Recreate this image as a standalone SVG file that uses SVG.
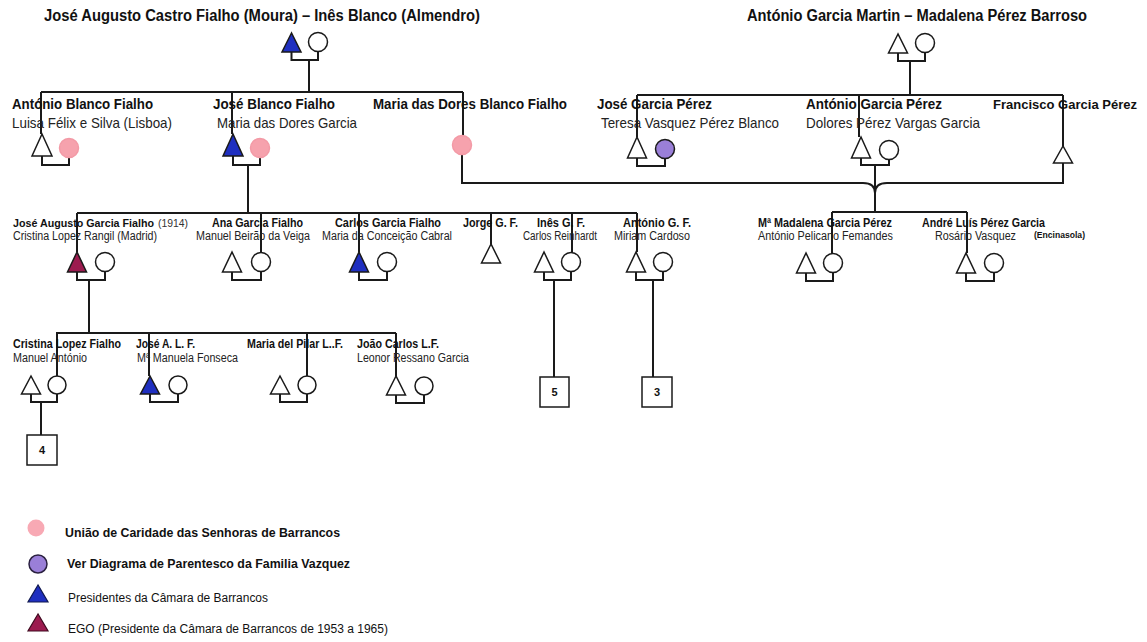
<svg xmlns="http://www.w3.org/2000/svg" width="1147" height="642" viewBox="0 0 1147 642">
<style>
.ln{stroke:#1a1a1a;stroke-width:2;fill:none}
.sym{fill:#fff;stroke:#1a1a1a;stroke-width:1.5}
.blue{fill:#1f2fc0}
.pink{fill:#f6a2ad;stroke:#f39aa6}
.purple{fill:#9a7fd8}
.ego{fill:#9c1b4f}
.box{fill:#fff;stroke:#1a1a1a;stroke-width:1.5}
text{font-family:"Liberation Sans",Arial,Helvetica,sans-serif;fill:#111}
.t{font-size:16px;font-weight:bold}
.b1{font-size:15px;font-weight:bold}
.r1{font-size:15px;fill:#222}
.b2{font-size:12px;font-weight:bold}
.r2{font-size:12px;fill:#222}
.lg{font-size:12px}
.num{font-size:11px;font-weight:bold;text-anchor:middle}
</style>
<rect width="1147" height="642" fill="#fff"/>

<g id="connectors">
<path class="ln" d="M291.5,52 V60 H318 V51.5 M309,60 V92"/>
<path class="ln" d="M41,92 H463"/>
<path class="ln" d="M41,92 V134 M232,92 V134 M463,92 V136"/>
<path class="ln" d="M42,156 V165 H69 V157.5"/>
<path class="ln" d="M233,156 V165 H260 V157.5 M248,165 V213"/>
<path class="ln" d="M898,53 V61 H925 V52.5 M910,61 V95"/>
<path class="ln" d="M637,95 H1063"/>
<path class="ln" d="M637,95 V137 M859,95 V137 M1063,95 V146"/>
<path class="ln" d="M637,158 V166 H665 V158.5"/>
<path class="ln" d="M861,158 V165 H889 V159.5 M875,165 V212"/>
<path class="ln" d="M462,154.5 V183 H863 Q875,183 875,193"/>
<path class="ln" d="M1063,163 V183 H887 Q875,183 875,193"/>
<path class="ln" d="M77,213 H637"/>
<path class="ln" d="M77,213 V252 M261,213 V252.5 M359,213 V252 M491,213 V244 M572,213 V252.5 M637,213 V252"/>
<path class="ln" d="M77,272 V280 H105 V271.5 M89,280 V333"/>
<path class="ln" d="M232,272 V280 H261 V271.5"/>
<path class="ln" d="M359,272 V280 H387 V271.5"/>
<path class="ln" d="M544,272 V280 H571 V271.5 M554,280 V377"/>
<path class="ln" d="M636,272 V280 H663 V271.5 M653,280 V377"/>
<path class="ln" d="M832,212 H967"/>
<path class="ln" d="M832,212 V253.5 M967,212 V253"/>
<path class="ln" d="M806,273 V281 H833 V272.5"/>
<path class="ln" d="M966,273 V281 H994 V272.5"/>
<path class="ln" d="M56,333 H396"/>
<path class="ln" d="M57,333 V376 M149,333 V376 M307,333 V376 M396,333 V376"/>
<path class="ln" d="M31,394 V402 H57 V394 M41,402 V435"/>
<path class="ln" d="M150,394 V402 H178 V394"/>
<path class="ln" d="M280,394 V402 H307 V394"/>
<path class="ln" d="M396,394 V403 H424 V395"/>
</g>

<g id="title-left">
<text class="t" x="44" y="21" textLength="436" lengthAdjust="spacingAndGlyphs">José Augusto Castro Fialho (Moura) – Inês Blanco (Almendro)</text>
<polygon class="sym blue" points="291.5,33 282,52 301,52"/>
<circle class="sym" cx="318" cy="42" r="9.5"/>
</g>
<g id="title-right">
<text class="t" x="747" y="21" textLength="340" lengthAdjust="spacingAndGlyphs">António Garcia Martin – Madalena Pérez Barroso</text>
<polygon class="sym" points="898,34 888.5,53 907.5,53"/>
<circle class="sym" cx="925" cy="43" r="9.5"/>
</g>

<g id="antonio-blanco-fialho">
<text class="b1" x="12" y="108.5" textLength="141" lengthAdjust="spacingAndGlyphs">António Blanco Fialho</text>
<text class="r1" x="12" y="127.5" textLength="160" lengthAdjust="spacingAndGlyphs">Luisa Félix e Silva (Lisboa)</text>
<polygon class="sym" points="42,134 32,156 52,156"/>
<circle class="sym pink" cx="69" cy="148" r="9.5"/>
</g>
<g id="jose-blanco-fialho">
<text class="b1" x="213" y="108.5" textLength="122" lengthAdjust="spacingAndGlyphs">José Blanco Fialho</text>
<text class="r1" x="217" y="127.5" textLength="140" lengthAdjust="spacingAndGlyphs">Maria das Dores Garcia</text>
<polygon class="sym blue" points="233,134 223,156 243,156"/>
<circle class="sym pink" cx="260" cy="148" r="9.5"/>
</g>
<g id="maria-das-dores-blanco-fialho">
<text class="b1" x="373" y="108.5" textLength="194" lengthAdjust="spacingAndGlyphs">Maria das Dores Blanco Fialho</text>
<circle class="sym pink" cx="462" cy="145" r="9.5"/>
</g>
<g id="jose-garcia-perez">
<text class="b1" x="597" y="108.5" textLength="115" lengthAdjust="spacingAndGlyphs">José Garcia Pérez</text>
<text class="r1" x="601" y="128" textLength="178" lengthAdjust="spacingAndGlyphs">Teresa Vasquez Pérez Blanco</text>
<polygon class="sym" points="637,137 627.5,158 646.5,158"/>
<circle class="sym purple" cx="665" cy="149" r="9.5"/>
</g>
<g id="antonio-garcia-perez">
<text class="b1" x="806" y="108.5" textLength="136" lengthAdjust="spacingAndGlyphs">António Garcia Pérez</text>
<text class="r1" x="806" y="128" textLength="174" lengthAdjust="spacingAndGlyphs">Dolores Pérez Vargas Garcia</text>
<polygon class="sym" points="861,137 851.5,158 870.5,158"/>
<circle class="sym" cx="889" cy="150" r="9.5"/>
</g>
<g id="francisco-garcia-perez">
<text x="993" y="108.5" style="font-size:13.5px;font-weight:bold" textLength="144" lengthAdjust="spacingAndGlyphs">Francisco Garcia Pérez</text>
<polygon class="sym" points="1063,146 1053.5,163 1072.5,163"/>
</g>

<g id="jose-augusto-garcia-fialho">
<text x="13" y="226.5" style="font-size:10.8px;font-weight:bold" textLength="141" lengthAdjust="spacingAndGlyphs">José Augusto Garcia Fialho</text>
<text x="158" y="226.5" style="font-size:11px;fill:#333" textLength="30" lengthAdjust="spacingAndGlyphs">(1914)</text>
<text class="r2" x="13" y="239.5" textLength="144" lengthAdjust="spacingAndGlyphs">Cristina Lopez Rangil (Madrid)</text>
<polygon class="sym ego" points="77,252 67.5,272 86.5,272"/>
<circle class="sym" cx="105" cy="262" r="9.5"/>
</g>
<g id="ana-garcia-fialho">
<text class="b2" x="212" y="226.5" textLength="91" lengthAdjust="spacingAndGlyphs">Ana Garcia Fialho</text>
<text class="r2" x="196" y="239.5" textLength="114" lengthAdjust="spacingAndGlyphs">Manuel Beirão da Veiga</text>
<polygon class="sym" points="232,252 222.5,272 241.5,272"/>
<circle class="sym" cx="261" cy="262" r="9.5"/>
</g>
<g id="carlos-garcia-fialho">
<text class="b2" x="335" y="226.5" textLength="106" lengthAdjust="spacingAndGlyphs">Carlos Garcia Fialho</text>
<text class="r2" x="322" y="239.5" textLength="130" lengthAdjust="spacingAndGlyphs">Maria da Conceição Cabral</text>
<polygon class="sym blue" points="359,252 349.5,272 368.5,272"/>
<circle class="sym" cx="387" cy="262" r="9.5"/>
</g>
<g id="jorge-g-f">
<text class="b2" x="463" y="226.5" textLength="55" lengthAdjust="spacingAndGlyphs">Jorge G. F.</text>
<polygon class="sym" points="491,244 481.5,263 500.5,263"/>
</g>
<g id="ines-g-f">
<text class="b2" x="537" y="226.5" textLength="48" lengthAdjust="spacingAndGlyphs">Inês G. F.</text>
<text class="r2" x="523" y="239.5" textLength="74" lengthAdjust="spacingAndGlyphs">Carlos Reinhardt</text>
<polygon class="sym" points="544,252 534.5,272 553.5,272"/>
<circle class="sym" cx="571" cy="262" r="9.5"/>
</g>
<g id="antonio-g-f">
<text class="b2" x="623" y="226.5" textLength="68" lengthAdjust="spacingAndGlyphs">António G. F.</text>
<text class="r2" x="614" y="239.5" textLength="76" lengthAdjust="spacingAndGlyphs">Miriam Cardoso</text>
<polygon class="sym" points="636,252 626.5,272 645.5,272"/>
<circle class="sym" cx="663" cy="262" r="9.5"/>
</g>
<g id="madalena-garcia-perez">
<text class="b2" x="758" y="226.5" textLength="134" lengthAdjust="spacingAndGlyphs">Mª Madalena Garcia Pérez</text>
<text class="r2" x="758" y="239.5" textLength="135" lengthAdjust="spacingAndGlyphs">António Pelicano Femandes</text>
<polygon class="sym" points="806,253 796.5,273 815.5,273"/>
<circle class="sym" cx="833" cy="263" r="9.5"/>
</g>
<g id="andre-luis-perez-garcia">
<text class="b2" x="922" y="226.5" textLength="123" lengthAdjust="spacingAndGlyphs">André Luís Pérez Garcia</text>
<text class="r2" x="935" y="239.5" textLength="81" lengthAdjust="spacingAndGlyphs">Rosário Vasquez</text>
<text x="1034" y="237.5" style="font-size:9px;font-weight:bold" textLength="51" lengthAdjust="spacingAndGlyphs">(Encinasola)</text>
<polygon class="sym" points="966,253 956.5,273 975.5,273"/>
<circle class="sym" cx="994" cy="263" r="9.5"/>
</g>

<g id="cristina-lopez-fialho">
<text class="b2" x="13" y="347.5" textLength="108" lengthAdjust="spacingAndGlyphs">Cristina Lopez Fialho</text>
<text class="r2" x="13" y="361.5" textLength="74" lengthAdjust="spacingAndGlyphs">Manuel António</text>
<polygon class="sym" points="31,376 21.5,394 40.5,394"/>
<circle class="sym" cx="57" cy="385" r="9"/>
</g>
<g id="jose-a-l-f">
<text class="b2" x="136" y="347.5" textLength="59" lengthAdjust="spacingAndGlyphs">José A. L. F.</text>
<text class="r2" x="137" y="361.5" textLength="101" lengthAdjust="spacingAndGlyphs">Mª Manuela Fonseca</text>
<polygon class="sym blue" points="150,376 140.5,394 159.5,394"/>
<circle class="sym" cx="178" cy="385" r="9"/>
</g>
<g id="maria-del-pilar">
<text class="b2" x="247" y="347.5" textLength="96" lengthAdjust="spacingAndGlyphs">Maria del Pilar L..F.</text>
<polygon class="sym" points="280,376 270.5,394 289.5,394"/>
<circle class="sym" cx="307" cy="385" r="9"/>
</g>
<g id="joao-carlos-l-f">
<text class="b2" x="357" y="347.5" textLength="82" lengthAdjust="spacingAndGlyphs">João Carlos L.F.</text>
<text class="r2" x="357" y="361.5" textLength="112" lengthAdjust="spacingAndGlyphs">Leonor Ressano Garcia</text>
<polygon class="sym" points="396,376 386.5,395 405.5,395"/>
<circle class="sym" cx="424" cy="386" r="9"/>
</g>

<g id="box-4"><rect class="box" x="27" y="435" width="30" height="30"/><text class="num" x="42" y="454">4</text></g>
<g id="box-5"><rect class="box" x="540" y="377" width="29" height="30"/><text class="num" x="554.5" y="396">5</text></g>
<g id="box-3"><rect class="box" x="642" y="377" width="30" height="30"/><text class="num" x="657" y="396">3</text></g>

<g id="legend">
<circle cx="36" cy="528" r="8.5" fill="#f8a9b4"/>
<text class="lg" x="65" y="536.5" font-weight="bold" textLength="275" lengthAdjust="spacingAndGlyphs">União de Caridade das Senhoras de Barrancos</text>
<circle cx="38" cy="564" r="9" fill="#9a7fd8" stroke="#2a2040" stroke-width="1.5"/>
<text class="lg" x="67" y="567.5" font-weight="bold" textLength="283" lengthAdjust="spacingAndGlyphs">Ver Diagrama de Parentesco da Familia Vazquez</text>
<polygon points="38,585 28,602 48,602" fill="#1f2fc0" stroke="#101850" stroke-width="1.2"/>
<text class="lg" x="68" y="601.5" textLength="200" lengthAdjust="spacingAndGlyphs">Presidentes da Câmara de Barrancos</text>
<polygon points="38,614 28,631 48,631" fill="#9c1b4f" stroke="#400a20" stroke-width="1.2"/>
<text class="lg" x="68" y="632.5" textLength="320" lengthAdjust="spacingAndGlyphs">EGO (Presidente da Câmara de Barrancos de 1953 a 1965)</text>
</g>
</svg>
